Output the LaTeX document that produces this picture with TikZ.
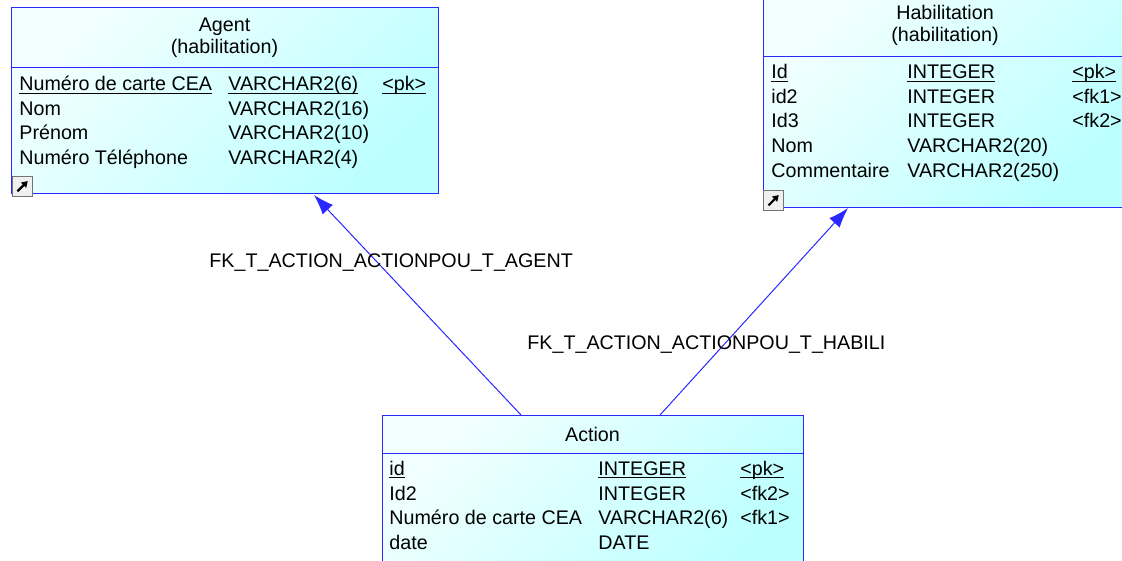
\documentclass[tikz,border=0pt]{standalone}
\usepackage{fontspec}
\setmainfont{Liberation Sans}
\usetikzlibrary{fit,arrows.meta}
\definecolor{tblBorder}{RGB}{40,40,255}
\definecolor{tblLight}{RGB}{242,255,255}
\definecolor{tblDark}{RGB}{188,255,255}
\newcommand\keyline[1]{\setbox0\hbox{#1}\rlap{\rule[-1.6pt]{\wd0}{0.65pt}}\box0}

\begin{document}
\begin{tikzpicture}[x=0.5pt, y=-0.5pt,
    font=\fontsize{9.85}{11}\selectfont,
    table/.style={draw=tblBorder, line width=0.5pt, top color=tblLight, bottom color=tblDark, shading angle=45, inner sep=0pt},
    col/.style={anchor=base west, inner sep=0pt},
    title/.style={anchor=base, inner sep=0pt},
    fk/.style={draw=tblBorder, line width=0.5pt, -{Latex[length=10pt,width=7pt]}},
    shortcut/.style={draw=black!55, fill=black!6, minimum size=10pt, inner sep=0pt, anchor=north west,
      path picture={
        \draw[black, line width=0.9pt] (path picture bounding box.south east) -- (path picture bounding box.north east) -- (path picture bounding box.north west);
        \draw[black, line width=1.1pt, -{Triangle[length=3pt,width=3.5pt]}] ([shift={(2.5pt,2.5pt)}]path picture bounding box.south west) -- ([shift={(-2.3pt,-2.3pt)}]path picture bounding box.north east);
      }}]

    \useasboundingbox (0,0) rectangle (1122,561);
    \clip (0,0) rectangle (1122,561);

    % Agent
    \node[table, fit={(11,8) (438,194)}] (agent) {};
    \draw[tblBorder, line width=0.5pt] (11,68) -- (438,68);
    \node[title] (agentname) at (224.5,32) {Agent};
    \node[title] (agentowner) at (224.5,54) {(habilitation)};
    \node[col] (ag1) at (19,91) {\keyline{Numéro de carte CEA}};
    \node[col] (ag1t) at (228,91) {\keyline{VARCHAR2(6)}};
    \node[col] (ag1k) at (382,91) {\keyline{<pk>}};
    \node[col] (ag2) at (19,115.5) {Nom};
    \node[col] (ag2t) at (228,115.5) {VARCHAR2(16)};
    \node[col] (ag3) at (19,140) {Prénom};
    \node[col] (ag3t) at (228,140) {VARCHAR2(10)};
    \node[col] (ag4) at (19,164.5) {Numéro Téléphone};
    \node[col] (ag4t) at (228,164.5) {VARCHAR2(4)};
    \node[shortcut] (agenticon) at (12,176) {};

    % Habilitation
    \node[table, fit={(763,-3) (1127,207)}] (habil) {};
    \draw[tblBorder, line width=0.5pt] (763,57) -- (1127,57);
    \node[title] (habilname) at (945,20) {Habilitation};
    \node[title] (habilowner) at (945,42) {(habilitation)};
    \node[col] (hb1) at (771,79) {\keyline{Id}};
    \node[col] (hb1t) at (907,79) {\keyline{INTEGER}};
    \node[col] (hb1k) at (1072,79) {\keyline{<pk>}};
    \node[col] (hb2) at (771,103.5) {id2};
    \node[col] (hb2t) at (907,103.5) {INTEGER};
    \node[col] (hb2k) at (1072,103.5) {<fk1>};
    \node[col] (hb3) at (771,128) {Id3};
    \node[col] (hb3t) at (907,128) {INTEGER};
    \node[col] (hb3k) at (1072,128) {<fk2>};
    \node[col] (hb4) at (771,152.5) {Nom};
    \node[col] (hb4t) at (907,152.5) {VARCHAR2(20)};
    \node[col] (hb5) at (771,177) {Commentaire};
    \node[col] (hb5t) at (907,177) {VARCHAR2(250)};
    \node[shortcut] (habilicon) at (763,190) {};

    % Action
    \node[table, fit={(382,415) (803,580)}] (action) {};
    \draw[tblBorder, line width=0.5pt] (382,453) -- (803,453);
    \node[title] (actionname) at (592.5,441) {Action};
    \node[col] (ac1) at (389,475) {\keyline{id}};
    \node[col] (ac1t) at (598,475) {\keyline{INTEGER}};
    \node[col] (ac1k) at (740,475) {\keyline{<pk>}};
    \node[col] (ac2) at (389,500) {Id2};
    \node[col] (ac2t) at (598,500) {INTEGER};
    \node[col] (ac2k) at (740,500) {<fk2>};
    \node[col] (ac3) at (389,524.5) {Numéro de carte CEA};
    \node[col] (ac3t) at (598,524.5) {VARCHAR2(6)};
    \node[col] (ac3k) at (740,524.5) {<fk1>};
    \node[col] (ac4) at (389,549) {date};
    \node[col] (ac4t) at (598,549) {DATE};

    % references
    \coordinate (fkagentfrom) at (521,415);
    \coordinate (fkagentto) at (314,195);
    \coordinate (fkhabilfrom) at (660,415);
    \coordinate (fkhabilto) at (848,208);
    \draw[fk] (fkagentfrom) -- (fkagentto);
    \draw[fk] (fkhabilfrom) -- (fkhabilto);
    \node[col] (fkagent) at (209,267) {FK\_T\_ACTION\_ACTIONPOU\_T\_AGENT};
    \node[col] (fkhabil) at (527,349) {FK\_T\_ACTION\_ACTIONPOU\_T\_HABILI};

  \end{tikzpicture}
\end{document}
